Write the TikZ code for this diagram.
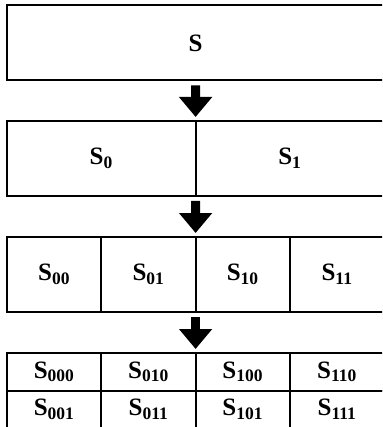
\documentclass[tikz,border=0pt]{standalone}
\usepackage{fontspec}
\setmainfont{Liberation Serif}
\usetikzlibrary{arrows.meta,positioning}

\begin{document}
\begin{tikzpicture}[x=1pt,y=-1pt,
  cell/.style={draw,line width=2pt,inner sep=0pt,outer sep=0pt,
    font=\fontsize{25}{27}\selectfont\bfseries},
  half/.style={cell,minimum width=188.6pt,minimum height=75pt},
  quarter/.style={cell,minimum width=94.3pt,minimum height=75pt},
  eighth/.style={cell,minimum width=94.3pt,minimum height=37.5pt},
  downarrow/.style={-{Triangle[width=32pt,length=20pt]},line width=9pt,
    shorten <=5pt,shorten >=4pt}]
\useasboundingbox (0,0) rectangle (382,427);
\clip (0,0) rectangle (382,427);
\node[cell,minimum width=377.2pt,minimum height=75pt] (s) at (195.6,43) {S};
\node[half,anchor=north west] (s0) at ([yshift=-40.5pt]s.south west) {S\textsubscript{0}};
\node[half,right=0pt of s0] (s1) {S\textsubscript{1}};
\node[quarter,anchor=north west] (s00) at ([yshift=-41pt]s0.south west) {S\textsubscript{00}};
\node[quarter,right=0pt of s00] (s01) {S\textsubscript{01}};
\node[quarter,right=0pt of s01] (s10) {S\textsubscript{10}};
\node[quarter,right=0pt of s10] (s11) {S\textsubscript{11}};
\node[eighth,anchor=north west] (s000) at ([yshift=-41pt]s00.south west) {S\textsubscript{000}};
\node[eighth,right=0pt of s000] (s010) {S\textsubscript{010}};
\node[eighth,right=0pt of s010] (s100) {S\textsubscript{100}};
\node[eighth,right=0pt of s100] (s110) {S\textsubscript{110}};
\node[eighth,below=0pt of s000] (s001) {S\textsubscript{001}};
\node[eighth,below=0pt of s010] (s011) {S\textsubscript{011}};
\node[eighth,below=0pt of s100] (s101) {S\textsubscript{101}};
\node[eighth,below=0pt of s110] (s111) {S\textsubscript{111}};
\draw[downarrow] (s.south) -- (s0.north east);
\draw[downarrow] (s0.south east) -- (s01.north east);
\draw[downarrow] (s01.south east) -- (s010.north east);
\end{tikzpicture}
\end{document}
